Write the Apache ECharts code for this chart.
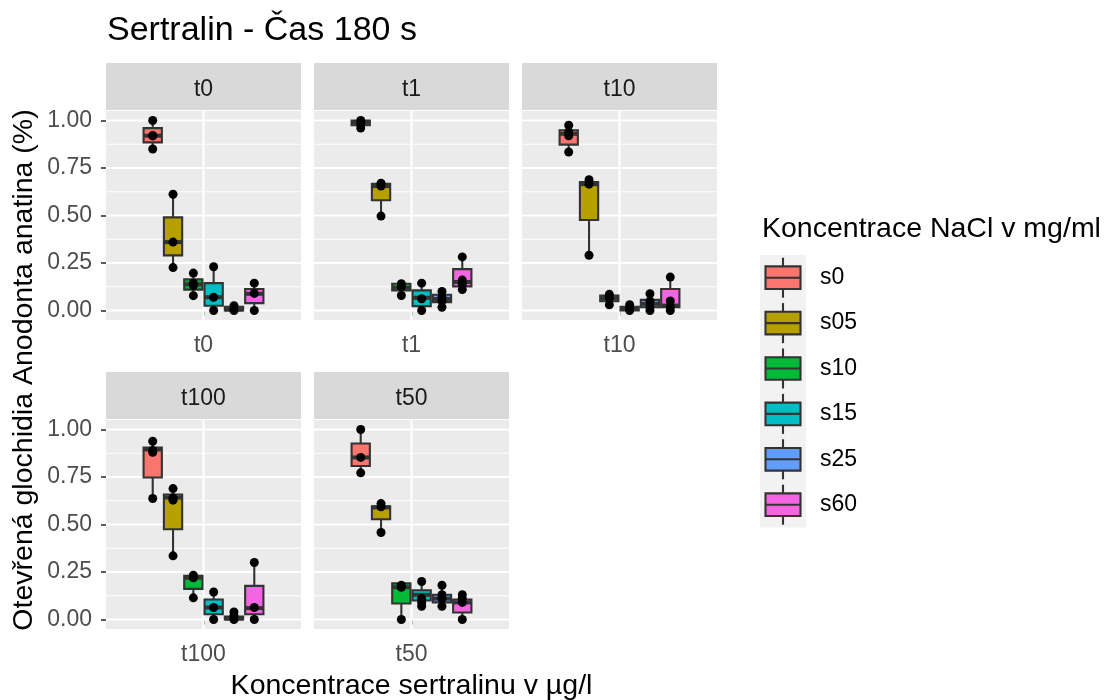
<!DOCTYPE html>
<html><head><meta charset="utf-8">
<script src="https://cdn.jsdelivr.net/npm/echarts@6/dist/echarts.min.js"></script>
<style>html,body{margin:0;padding:0;background:#fff}#c{width:1109px;height:700px}</style>
</head><body><div id="c"></div><script>
// ---------- data ----------
const panels = ['t0', 't1', 't10', 't100', 't50'];
const groups = ['s0', 's05', 's10', 's15', 's25', 's60'];
const colors = ['#F8766D', '#B79F00', '#00BA38', '#00BFC4', '#619CFF', '#F564E3'];
const yTicks = [0, 0.25, 0.5, 0.75, 1.0];
const yMinor = [0.125, 0.375, 0.625, 0.875];
const titleText = 'Sertralin - Čas 180 s';
const xTitle = 'Koncentrace sertralinu v µg/l';
const yTitle = 'Otevřená glochidia Anodonta anatina (%)';
const legendTitle = 'Koncentrace NaCl v mg/ml';

// box stats per group: [min, q1, median, q3, max]
const t0_box = [
  [0.85, 0.885, 0.92, 0.96, 1.00],
  [0.226, 0.29, 0.36, 0.49, 0.612],
  [0.078, 0.11, 0.138, 0.164, 0.197],
  [0.00, 0.025, 0.07, 0.144, 0.23],
  [0.00, 0.00, 0.005, 0.02, 0.025],
  [0.00, 0.039, 0.088, 0.113, 0.144]
];
const t0_pts = [[1.00, 0.92, 0.92, 0.85], [0.612, 0.36, 0.226], [0.197, 0.144, 0.13, 0.078], [0.23, 0.07, 0.00], [0.025, 0.01, 0.00], [0.144, 0.09, 0.00]];

const t1_box = [
  [0.96, 0.975, 0.99, 1.00, 1.00],
  [0.497, 0.58, 0.655, 0.667, 0.67],
  [0.079, 0.106, 0.12, 0.141, 0.141],
  [0.00, 0.023, 0.067, 0.106, 0.144],
  [0.017, 0.044, 0.06, 0.083, 0.10],
  [0.11, 0.127, 0.15, 0.218, 0.282]
];
const t1_pts = [[1.00, 0.98, 0.96], [0.67, 0.655, 0.497], [0.141, 0.125, 0.079], [0.144, 0.062, 0.00], [0.10, 0.07, 0.05, 0.017], [0.282, 0.16, 0.14, 0.11]];

const t10_box = [
  [0.834, 0.873, 0.93, 0.949, 0.975],
  [0.291, 0.476, 0.665, 0.676, 0.688],
  [0.03, 0.049, 0.065, 0.079, 0.085],
  [0.00, 0.00, 0.01, 0.019, 0.03],
  [0.00, 0.017, 0.035, 0.056, 0.088],
  [0.00, 0.017, 0.026, 0.113, 0.176]
];
const t10_pts = [[0.975, 0.94, 0.92, 0.834], [0.688, 0.665, 0.291], [0.085, 0.065, 0.03], [0.03, 0.01, 0.00], [0.088, 0.05, 0.02, 0.00], [0.176, 0.05, 0.02, 0.00]];

const t100_box = [
  [0.637, 0.747, 0.895, 0.905, 0.938],
  [0.335, 0.475, 0.642, 0.658, 0.689],
  [0.114, 0.161, 0.22, 0.23, 0.233],
  [0.00, 0.028, 0.063, 0.105, 0.145],
  [0.00, 0.00, 0.005, 0.016, 0.04],
  [0.00, 0.028, 0.06, 0.177, 0.30]
];
const t100_pts = [[0.938, 0.89, 0.88, 0.637], [0.689, 0.64, 0.628, 0.335], [0.233, 0.22, 0.114], [0.145, 0.063, 0.00], [0.04, 0.02, 0.00], [0.30, 0.063, 0.00]];

const t50_box = [
  [0.772, 0.808, 0.853, 0.926, 1.00],
  [0.458, 0.528, 0.59, 0.596, 0.61],
  [0.00, 0.084, 0.17, 0.19, 0.19],
  [0.07, 0.10, 0.13, 0.154, 0.20],
  [0.07, 0.09, 0.11, 0.13, 0.18],
  [0.00, 0.037, 0.09, 0.105, 0.13]
];
const t50_pts = [[1.00, 0.853, 0.772], [0.61, 0.593, 0.458], [0.18, 0.17, 0.00], [0.20, 0.11, 0.09, 0.07], [0.18, 0.13, 0.11, 0.07], [0.13, 0.11, 0.09, 0.00]];

const boxData = [t0_box, t1_box, t10_box, t100_box, t50_box];
const ptsData = [t0_pts, t1_pts, t10_pts, t100_pts, t50_pts];

// ---------- layout ----------
const FONT = 'Liberation Sans, Arial, sans-serif';
const panelLeft = [106, 314, 522, 106, 314];
const panelTop = [111, 111, 111, 420, 420];
const PW = 195, PH = 209;
const stripH = 47;
const DODGE = 0.125, BOX_W = 0.1125;
const LW = 2.1;
const xPos = gi => 1 + (gi - (groups.length - 1) / 2) * DODGE;

const chart = echarts.init(document.getElementById('c'), null, {renderer: 'canvas'});

const grids = [], xAxes = [], yAxes = [], series = [], graphics = [];

panels.forEach((p, i) => {
  grids.push({left: panelLeft[i], top: panelTop[i], width: PW, height: PH,
    show: true, backgroundColor: '#EBEBEB', borderWidth: 0, containLabel: false});
  xAxes.push({gridIndex: i, type: 'value', min: 0.4, max: 1.6,
    axisLine: {show: false}, splitLine: {show: false},
    axisTick: {show: true, customValues: [1], length: 5, lineStyle: {color: '#333333', width: 1.6}},
    axisLabel: {show: true, customValues: [1], formatter: () => p, margin: 14,
      color: '#4D4D4D', fontSize: 23, fontFamily: FONT}});
  const showY = (i === 0 || i === 3);
  yAxes.push({gridIndex: i, type: 'value', min: -0.05, max: 1.05,
    axisLine: {show: false}, splitLine: {show: false},
    axisTick: {show: showY, customValues: yTicks, length: 5, lineStyle: {color: '#333333', width: 1.6}},
    axisLabel: {show: showY, customValues: yTicks, formatter: v => Number(v).toFixed(2), margin: 14,
      color: '#4D4D4D', fontSize: 23, fontFamily: FONT}});

  // grid lines
  const gl = [];
  yTicks.forEach(v => gl.push([1, v, 1, 0]));
  yMinor.forEach(v => gl.push([1, v, 0, 0]));
  gl.push([1, 0.5, 1, 1]);
  series.push({type: 'custom', xAxisIndex: i, yAxisIndex: i, z: 1, silent: true,
    encode: {x: 0, y: 1}, data: gl,
    renderItem: (params, api) => {
      const cs = params.coordSys;
      const major = api.value(2) === 1;
      if (api.value(3) === 1) {
        const xx = api.coord([1, 0])[0];
        return {type: 'line', shape: {x1: xx, y1: cs.y, x2: xx, y2: cs.y + cs.height},
          style: {stroke: '#FFFFFF', lineWidth: 2.2}};
      }
      const yy = api.coord([1, api.value(1)])[1];
      return {type: 'line', shape: {x1: cs.x, y1: yy, x2: cs.x + cs.width, y2: yy},
        style: {stroke: '#FFFFFF', lineWidth: major ? 2.2 : 1.1}};
    }});

  // boxes
  const bd = boxData[i].map((s, gi) => [xPos(gi), s[0], s[1], s[2], s[3], s[4], gi]);
  series.push({type: 'custom', name: p, xAxisIndex: i, yAxisIndex: i, z: 2,
    encode: {x: 0, y: [1, 2, 3, 4, 5]}, data: bd,
    renderItem: (params, api) => {
      const x = api.value(0);
      const lo = api.coord([x, api.value(1)]);
      const q1 = api.coord([x, api.value(2)]);
      const md = api.coord([x, api.value(3)]);
      const q3 = api.coord([x, api.value(4)]);
      const hi = api.coord([x, api.value(5)]);
      const w = api.size([BOX_W, 0])[0];
      const gi = api.value(6);
      return {type: 'group', children: [
        {type: 'line', shape: {x1: lo[0], y1: lo[1], x2: q1[0], y2: q1[1]}, style: {stroke: '#333333', lineWidth: LW}},
        {type: 'line', shape: {x1: q3[0], y1: q3[1], x2: hi[0], y2: hi[1]}, style: {stroke: '#333333', lineWidth: LW}},
        {type: 'rect', shape: {x: q1[0] - w / 2, y: q3[1], width: w, height: Math.max(q1[1] - q3[1], 0.5)},
          style: {fill: colors[gi], stroke: '#333333', lineWidth: LW}},
        {type: 'line', shape: {x1: md[0] - w / 2, y1: md[1], x2: md[0] + w / 2, y2: md[1]}, style: {stroke: '#333333', lineWidth: 4}}
      ]};
    }});

  // points
  const pd = [];
  ptsData[i].forEach((arr, gi) => arr.forEach(v => pd.push([xPos(gi), v])));
  series.push({type: 'scatter', xAxisIndex: i, yAxisIndex: i, z: 3, data: pd,
    symbol: 'circle', symbolSize: 9, itemStyle: {color: '#000000', opacity: 1}, silent: true});

  // strip
  graphics.push({type: 'rect', shape: {x: panelLeft[i], y: panelTop[i] - stripH - 1, width: PW, height: stripH},
    style: {fill: '#D9D9D9'}});
  graphics.push({type: 'text', x: panelLeft[i] + PW / 2, y: panelTop[i] - stripH - 1 + stripH / 2 + 3,
    style: {text: p, fill: '#1A1A1A', font: '23px ' + FONT, textAlign: 'center', textVerticalAlign: 'middle'}});
});

// titles
graphics.push({type: 'text', x: 107, y: 31,
  style: {text: titleText, fill: '#000000', font: '34px ' + FONT, textAlign: 'left', textVerticalAlign: 'middle'}});
graphics.push({type: 'text', x: 411.5, y: 686,
  style: {text: xTitle, fill: '#000000', font: '28.5px ' + FONT, textAlign: 'center', textVerticalAlign: 'middle'}});
graphics.push({type: 'text', x: 24, y: 370, rotation: Math.PI / 2,
  style: {text: yTitle, fill: '#000000', font: '28.5px ' + FONT, textAlign: 'center', textVerticalAlign: 'middle'}});

// legend
const LX = 760, LY = 255, KEY_W = 46, KEY_H = 45.4;
graphics.push({type: 'text', x: 762, y: 229,
  style: {text: legendTitle, fill: '#000000', font: '28.5px ' + FONT, textAlign: 'left', textVerticalAlign: 'middle'}});
graphics.push({type: 'rect', shape: {x: LX, y: LY, width: KEY_W, height: KEY_H * groups.length}, style: {fill: '#F2F2F2'}});
groups.forEach((g, gi) => {
  const cy = LY + KEY_H * gi + KEY_H / 2;
  const cx = LX + KEY_W / 2;
  graphics.push({type: 'line', shape: {x1: cx, y1: cy - 20, x2: cx, y2: cy + 20}, style: {stroke: '#333333', lineWidth: LW}});
  graphics.push({type: 'rect', shape: {x: cx - 17.5, y: cy - 11.3, width: 35, height: 22.6},
    style: {fill: colors[gi], stroke: '#333333', lineWidth: LW}});
  graphics.push({type: 'line', shape: {x1: cx - 17.5, y1: cy, x2: cx + 17.5, y2: cy}, style: {stroke: '#333333', lineWidth: LW}});
  graphics.push({type: 'text', x: 820, y: cy,
    style: {text: g, fill: '#000000', font: '23px ' + FONT, textAlign: 'left', textVerticalAlign: 'middle'}});
});

chart.setOption({
  animation: false,
  backgroundColor: '#FFFFFF',
  grid: grids, xAxis: xAxes, yAxis: yAxes, series: series,
  graphic: {elements: graphics}
});
</script></body></html>
